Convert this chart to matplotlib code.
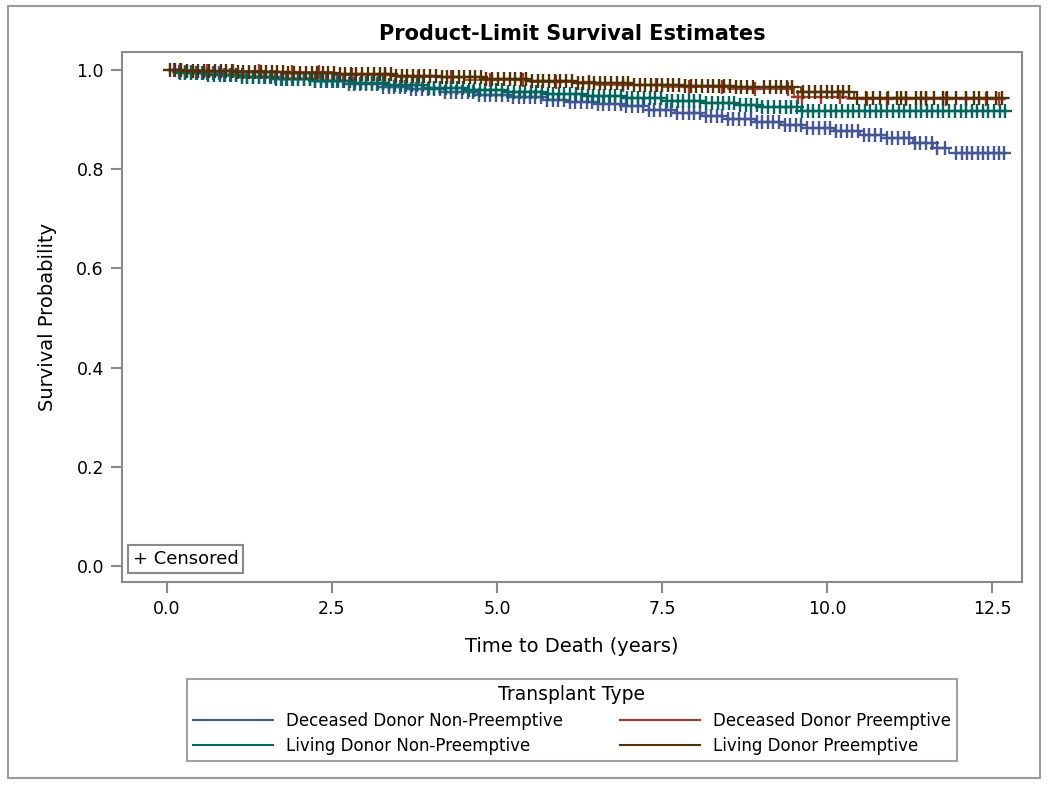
import matplotlib
matplotlib.use("Agg")
import matplotlib.pyplot as plt
from matplotlib.patches import Rectangle
from matplotlib.lines import Line2D

# ---------------- data ----------------
groups = ["Deceased Donor Non-Preemptive", "Deceased Donor Preemptive",
          "Living Donor Non-Preemptive", "Living Donor Preemptive"]
colors = ["#445694", "#A23A2E", "#01665E", "#543005"]

# Deceased Donor Non-Preemptive
ddnp_t = [0, 0.15, 0.4, 0.8, 1.2, 1.7, 2.2, 2.7, 3.2, 3.7, 4.2, 4.7, 5.2, 5.7, 6.1, 6.5,
          6.9, 7.3, 7.7, 8.1, 8.5, 8.9, 9.3, 9.7, 10.1, 10.5, 10.9, 11.3, 11.6, 11.85]
ddnp_s = [1.0, 0.996, 0.993, 0.99, 0.986, 0.982, 0.977, 0.972, 0.966, 0.961, 0.956, 0.950,
          0.945, 0.940, 0.936, 0.932, 0.927, 0.920, 0.913, 0.907, 0.900, 0.895, 0.889, 0.882,
          0.876, 0.869, 0.862, 0.853, 0.843, 0.832]
ddnp_end = 12.75
ddnp_cens = [0.10, 0.19, 0.27, 0.36, 0.44, 0.53, 0.61, 0.70, 0.79, 0.87, 0.96,
             1.04, 1.13, 1.21, 1.30, 1.39, 1.47, 1.56, 1.64, 1.73, 1.81, 1.90, 1.98,
             2.07, 2.16, 2.24, 2.33, 2.41, 2.50, 2.58, 2.67, 2.76, 2.84, 2.93,
             3.01, 3.10, 3.18, 3.27, 3.36, 3.44, 3.53, 3.61, 3.70, 3.78, 3.87, 3.96,
             4.04, 4.13, 4.21, 4.30, 4.38, 4.47, 4.56, 4.64, 4.73, 4.81, 4.90, 4.98,
             5.07, 5.16, 5.24, 5.33, 5.41, 5.50, 5.58, 5.67, 5.76, 5.84, 5.93,
             6.01, 6.10, 6.18, 6.27, 6.36, 6.44, 6.53, 6.61, 6.70, 6.78, 6.87, 6.96,
             7.04, 7.13, 7.21, 7.30, 7.38, 7.47, 7.56, 7.64, 7.73, 7.81, 7.90, 7.98,
             8.07, 8.16, 8.24, 8.33, 8.41, 8.50, 8.58, 8.67, 8.76, 8.84, 8.93,
             9.01, 9.10, 9.18, 9.27, 9.36, 9.44, 9.53, 9.61, 9.70, 9.78, 9.87, 9.96,
             10.04, 10.13, 10.21, 10.30, 10.38, 10.47, 10.56, 10.64, 10.73, 10.81, 10.90,
             10.98, 11.07, 11.16, 11.24, 11.33, 11.41, 11.50, 11.58, 11.67, 11.78, 11.95,
             12.04, 12.12, 12.20, 12.28, 12.36, 12.44, 12.52, 12.60, 12.68]

# Deceased Donor Preemptive
ddp_t = [0, 0.5, 1.5, 2.5, 3.5, 4.5, 5.5, 6.5, 7.5, 8.5, 9.5, 10.3]
ddp_s = [1.0, 0.998, 0.995, 0.99, 0.985, 0.98, 0.975, 0.97, 0.966, 0.962, 0.946, 0.942]
ddp_end = 12.7
ddp_cens = [0.2, 0.6, 1.0, 1.4, 1.9, 2.3, 2.8, 3.3, 3.8, 4.3, 4.9, 5.4, 5.9, 6.4, 6.9, 7.4,
            7.9, 8.4, 8.9, 9.4, 9.56, 9.62, 9.9, 10.2, 10.6, 10.9, 11.2, 11.5, 11.8, 12.1,
            12.4, 12.6]

# Living Donor Non-Preemptive
ldnp_t = [0, 0.2, 0.6, 1.1, 1.6, 2.2, 2.8, 3.3, 3.9, 4.5, 5.1, 5.7, 6.3, 6.9, 7.5, 8.1,
          8.6, 9.0, 9.6]
ldnp_s = [1.0, 0.994, 0.99, 0.986, 0.982, 0.978, 0.973, 0.969, 0.964, 0.96, 0.955, 0.951,
          0.947, 0.943, 0.938, 0.934, 0.930, 0.926, 0.917]
ldnp_end = 12.75
ldnp_cens = [0.20, 0.28, 0.37, 0.45, 0.54, 0.62, 0.71, 0.80, 0.88, 0.97,
             1.05, 1.14, 1.22, 1.31, 1.40, 1.48, 1.57, 1.65, 1.74, 1.82, 1.91, 1.99,
             2.08, 2.17, 2.25, 2.34, 2.42, 2.51, 2.59, 2.68, 2.77, 2.85, 2.94,
             3.02, 3.11, 3.19, 3.28, 3.37, 3.45, 3.54, 3.62, 3.71, 3.79, 3.88, 3.97,
             4.05, 4.14, 4.22, 4.31, 4.39, 4.48, 4.57, 4.65, 4.74, 4.82, 4.91, 4.99,
             5.08, 5.17, 5.25, 5.34, 5.42, 5.51, 5.59, 5.68, 5.77, 5.85, 5.94,
             6.02, 6.11, 6.19, 6.28, 6.37, 6.45, 6.54, 6.62, 6.71, 6.79, 6.88, 6.97,
             7.05, 7.14, 7.22, 7.31, 7.39, 7.48, 7.57, 7.65, 7.74, 7.82, 7.91, 7.99,
             8.08, 8.17, 8.25, 8.34, 8.42, 8.51, 8.59, 8.68, 8.77, 8.85, 8.94,
             9.02, 9.11, 9.19, 9.28, 9.37, 9.45, 9.54, 9.62, 9.71, 9.79, 9.88, 9.97,
             10.05, 10.14, 10.22, 10.31, 10.39, 10.48, 10.57, 10.65, 10.74, 10.82, 10.91,
             10.99, 11.08, 11.17, 11.25, 11.34, 11.42, 11.51, 11.59, 11.68, 11.76, 11.85,
             11.93, 12.02, 12.10, 12.19, 12.27, 12.36, 12.44, 12.53, 12.61, 12.70]

# Living Donor Preemptive
ldp_t = [0, 0.3, 1.0, 1.8, 2.6, 3.4, 4.1, 4.8, 5.5, 6.2, 7.0, 7.8, 8.6, 9.6, 10.4]
ldp_s = [1.0, 0.998, 0.996, 0.994, 0.991, 0.988, 0.985, 0.981, 0.977, 0.973, 0.970, 0.968,
         0.966, 0.956, 0.943]
ldp_end = 12.75
ldp_cens = [0.05, 0.13, 0.22, 0.30, 0.39, 0.47, 0.56, 0.64, 0.73, 0.82, 0.90, 0.99,
            1.07, 1.16, 1.24, 1.33, 1.42, 1.50, 1.59, 1.67, 1.76, 1.84, 1.93,
            2.02, 2.10, 2.19, 2.27, 2.36, 2.44, 2.53, 2.62, 2.70, 2.79, 2.87, 2.96,
            3.04, 3.13, 3.22, 3.30, 3.39, 3.47, 3.56, 3.64, 3.73, 3.82, 3.90, 3.99,
            4.07, 4.16, 4.24, 4.33, 4.42, 4.50, 4.59, 4.67, 4.76, 4.84, 4.93,
            5.02, 5.10, 5.19, 5.27, 5.36, 5.44, 5.53, 5.62, 5.70, 5.79, 5.87, 5.96,
            6.04, 6.13, 6.22, 6.30, 6.39, 6.47, 6.56, 6.64, 6.73, 6.82, 6.90, 6.99,
            7.07, 7.16, 7.24, 7.33, 7.42, 7.50, 7.59, 7.67, 7.76, 7.84, 7.93,
            8.02, 8.10, 8.19, 8.27, 8.36, 8.44, 8.53, 8.62, 8.70, 8.79, 8.87,
            9.04, 9.13, 9.22, 9.30, 9.39, 9.47, 9.64, 9.73, 9.82, 9.90, 9.99,
            10.07, 10.16, 10.24, 10.33, 10.45, 10.58, 10.70, 10.80, 10.92, 11.05, 11.12,
            11.20, 11.35, 11.42, 11.50, 11.62, 11.75, 11.82, 11.95, 12.10, 12.22, 12.30,
            12.42, 12.55, 12.65]

series = [
    (ddnp_t, ddnp_s, ddnp_end, ddnp_cens),
    (ddp_t, ddp_s, ddp_end, ddp_cens),
    (ldnp_t, ldnp_s, ldnp_end, ldnp_cens),
    (ldp_t, ldp_s, ldp_end, ldp_cens),
]

x_ticks = [0.0, 2.5, 5.0, 7.5, 10.0, 12.5]
y_ticks = [0.0, 0.2, 0.4, 0.6, 0.8, 1.0]


def surv_at(times, surv, x):
    val = surv[0]
    for t, s in zip(times, surv):
        if t <= x:
            val = s
    return val


# ---------------- figure ----------------
W, H = 1050, 787
plt.rcParams['font.family'] = ['DejaVu Sans']
fig = plt.figure(figsize=(W / 100, H / 100), dpi=100)

# outer border
fig.patches.append(Rectangle((8 / W, 1 - 778 / H), (1040 - 8) / W, (778 - 6) / H,
                             transform=fig.transFigure, fill=False,
                             edgecolor="#9a9a9a", linewidth=1.5))

ax = fig.add_axes([122 / W, 1 - 582 / H, 900 / W, 530 / H])

for (t, s, tend, cens), col in zip(series, colors):
    tt = list(t) + [tend]
    ss = list(s) + [s[-1]]
    ax.step(tt, ss, where="post", color=col, linewidth=1.2, zorder=2)
    cy = [surv_at(t, s, c) for c in cens]
    ax.plot(cens, cy, linestyle="none", marker="+", markersize=9.5,
            markeredgewidth=1.7, color=col, zorder=3)

ax.set_xlim(-0.68, 12.95)
ax.set_ylim(-0.032, 1.036)
ax.set_xticks(x_ticks)
ax.set_xticklabels([f"{v:.1f}" for v in x_ticks])
ax.set_yticks(y_ticks)
ax.set_yticklabels([f"{v:.1f}" for v in y_ticks])
ax.tick_params(axis="both", direction="out", length=8, width=1.5, color="#8a8a8a",
               labelsize=12.5, pad=5)
ax.tick_params(axis="x", pad=5)
for sp in ax.spines.values():
    sp.set_color("#8a8a8a")
    sp.set_linewidth(1.5)

ax.set_xlabel("Time to Death (years)", fontsize=14, labelpad=14)
ax.set_ylabel("Survival Probability", fontsize=14, labelpad=14)
ax.set_title("Product-Limit Survival Estimates", fontsize=15, fontweight="bold", pad=9)

ax.text(0.012, 0.027, "+ Censored", transform=ax.transAxes, fontsize=13,
        va="bottom", ha="left",
        bbox=dict(facecolor="white", edgecolor="#8a8a8a", linewidth=1.5, pad=3.5))

handles = [Line2D([0], [0], color=c, linewidth=1.5) for c in colors]
order = [0, 2, 1, 3]
leg = fig.legend([handles[i] for i in order], [groups[i] for i in order], ncol=2,
                 title="Transplant Type", fontsize=12, title_fontsize=13.5,
                 loc="center", bbox_to_anchor=(572 / W, 1 - 720 / H),
                 frameon=True, fancybox=False, edgecolor="#8a8a8a",
                 handlelength=4.8, columnspacing=3.4, borderpad=0.35,
                 labelspacing=0.45, handletextpad=0.78)
leg.get_frame().set_linewidth(1.5)

fig.savefig("out.png", dpi=100)
